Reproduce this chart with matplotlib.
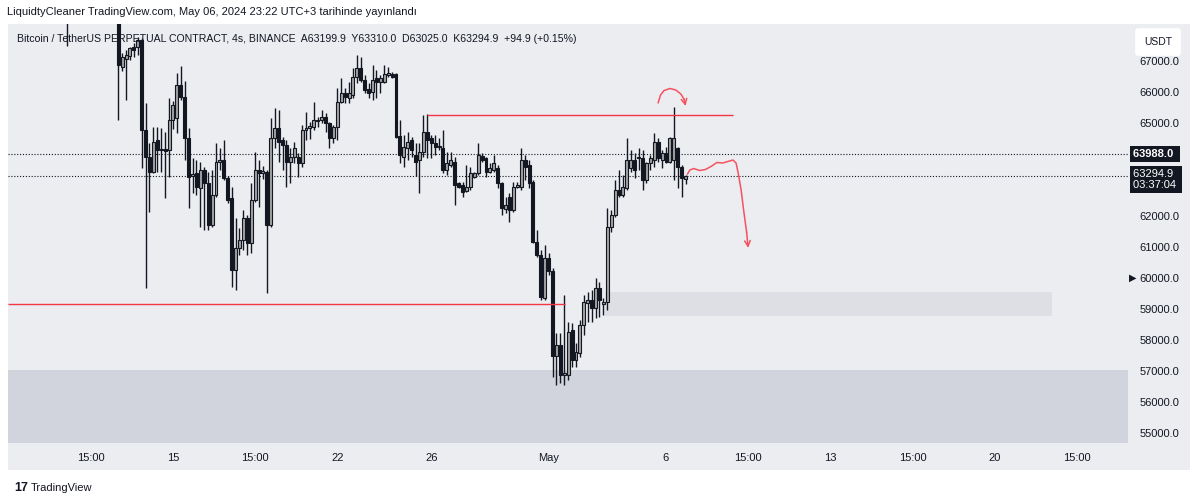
import numpy as np
import matplotlib.pyplot as plt
from matplotlib import transforms
from matplotlib.patches import Rectangle

plt.rcParams['font.family'] = ['Liberation Sans', 'DejaVu Sans']

# 4s mumlar (bar index 0 = ilk gorunen mum)
opens = [68400, 66816, 67050, 67161, 67460, 67460, 67677, 64774, 63913, 63429,
         64452, 64129, 64160, 64129, 65097, 65150, 66226, 65839, 64507, 63300,
         63380, 62903, 63484, 63054, 61710, 62677, 63750, 63806, 63216, 62570,
         60258, 60957, 61226, 61925, 61120, 62516, 63484, 63400, 63430, 61710,
         64507, 64829, 64452, 64290, 63752, 63900, 63913, 63700, 64774, 64830,
         64880, 65097, 65097, 65183, 65010, 64507, 64880, 65688, 65958, 65800,
         65903, 66494, 66765, 66387, 66087, 66010, 66440, 66332, 66332, 66560,
         66581, 66581, 64580, 63913, 64200, 64452, 63968, 63806, 64074, 64720,
         64507, 64345, 64236, 64184, 63484, 63645, 63752, 63054, 63000, 62816,
         62945, 63270, 63377, 63935, 63860, 63430, 63484, 63540, 63054, 62216,
         62623, 62194, 62945, 62945, 63806, 63645, 63108, 61171, 60742, 59345,
         60635, 60215, 57473, 57839, 56871, 56871, 58323, 57355, 57570, 58484,
         59203, 59290, 59022, 59668, 59161, 59236, 61655, 62032, 62839, 62677,
         62893, 63538, 63806, 63860, 63860, 63161, 63700, 63806, 64397, 63806,
         64020, 63752, 63806, 64184, 63591, 63199.9]
highs = [68700, 67248, 67355, 67460, 67570, 67785, 67730, 65635, 64355, 64870,
         64880, 64840, 64720, 65797, 65700, 66613, 66839, 66365, 64839, 63871,
         63806, 63752, 63590, 63430, 63484, 64345, 64194, 64452, 63300, 62945,
         61925, 61603, 62194, 62032, 63054, 64074, 63806, 63600, 63484, 65151,
         65474, 65419, 64560, 64452, 64184, 64400, 64020, 64935, 65365, 65040,
         65688, 65200, 65420, 65313, 65040, 64935, 66120, 66442, 66120, 66333,
         66765, 67194, 67140, 66548, 66281, 66871, 66710, 66548, 66871, 66816,
         66655, 66623, 65097, 64613, 64720, 64550, 64345, 64345, 65258, 65280,
         64613, 64613, 64507, 64774, 64074, 64074, 63913, 63108, 63108, 63645,
         63590, 63430, 64345, 64020, 63913, 63700, 63968, 63645, 63108, 62623,
         62732, 63108, 63108, 64184, 63968, 63806, 63161, 61548, 60903, 61065,
         60800, 60313, 58216, 58216, 59452, 58590, 58540, 57893, 58645, 59452,
         59560, 59613, 59990, 59880, 59345, 62248, 62194, 63161, 63484, 63323,
         64507, 64129, 64020, 64184, 64129, 63752, 63968, 64668, 64507, 64129,
         64236, 64560, 65526, 64236, 63645, 63310]
lows = [65097, 66687, 65742, 67032, 67140, 67194, 63539, 59668, 62139, 63387,
        63430, 63430, 62571, 63268, 64800, 64677, 65742, 63806, 62258, 62742,
        62677, 61655, 61548, 61548, 61655, 62623, 63484, 63161, 62430, 59720,
        59613, 60742, 60903, 60742, 60797, 62462, 62300, 63200, 59506, 61655,
        64184, 63752, 63484, 62945, 63054, 63700, 63270, 63590, 64452, 64500,
        64774, 64880, 64990, 64720, 64184, 64345, 64452, 65635, 65635, 65635,
        65797, 66281, 66332, 65958, 65797, 65742, 65797, 65958, 66281, 66494,
        66440, 64507, 63700, 63590, 63806, 63900, 63290, 62732, 63913, 63861,
        63861, 63968, 64129, 63377, 63323, 63590, 62355, 62893, 62623, 62784,
        62839, 63216, 63323, 63752, 63268, 63377, 63430, 62893, 62032, 62087,
        61816, 62139, 62893, 62839, 63161, 62900, 61120, 60688, 59290, 59290,
        60100, 56817, 56548, 56603, 56548, 56710, 57140, 57140, 57462, 58161,
        58590, 58590, 58700, 58750, 58806, 58968, 61494, 61978, 62623, 62623,
        62839, 63430, 63216, 63484, 62839, 63054, 63484, 63590, 63752, 63538,
        63700, 63700, 63161, 62893, 62623, 63025]
closes = [66871, 67119, 67180, 67410, 67355, 67677, 64774, 63913, 63429, 64397,
          64129, 64150, 64100, 65097, 65581, 66226, 65839, 64507, 63268, 63370,
          62935, 63484, 63054, 61710, 62677, 63752, 63806, 63216, 62516, 60258,
          60957, 61226, 61925, 61120, 62516, 63484, 63380, 63450, 61710, 64507,
          64829, 64398, 64290, 63752, 63913, 64200, 63700, 64774, 64840, 64900,
          65097, 65050, 65183, 64990, 64507, 64880, 65688, 65958, 65850, 65958,
          66494, 66765, 66387, 66065, 65978, 66387, 66332, 66440, 66581, 66581,
          66494, 64558, 63968, 64236, 64400, 64129, 63752, 64074, 64720, 64452,
          64345, 64236, 64220, 63484, 63700, 63806, 63000, 62925, 62784, 62945,
          63377, 63377, 63968, 63806, 63430, 63540, 63700, 63054, 62248, 62355,
          62194, 62945, 63000, 63806, 63590, 63054, 61171, 60742, 59397, 60635,
          60215, 57473, 57839, 56871, 56920, 58268, 57355, 57624, 58484, 59236,
          59290, 59022, 59668, 59290, 59236, 61655, 62032, 62839, 62677, 62945,
          63806, 63806, 63484, 63880, 63161, 63700, 63860, 64397, 63860, 64020,
          63752, 64507, 64507, 63591, 63216, 63294.9]

# ustten tasan eski mum (sadece fitili gorunuyor)
early_bar = -13
early_high, early_low = 70100, 67500

# eksen
time_ticks = [-7, 14, 35, 56, 80, 110, 140, 161, 182, 203, 224, 245]
time_labels = ['15:00', '15', '15:00', '22', '26', 'May', '6', '15:00', '13', '15:00', '20', '15:00']
price_ticks = [55000, 56000, 57000, 58000, 59000, 60000, 61000, 62000, 65000, 66000, 67000]
mark_price = 63988.0
last_price = 63294.9
countdown = '03:37:04'

# cizimler
support_level, support_end = 59160, 114.2
resist_level, resist_start, resist_end = 65258, 79, 157.1
zone_top = 57030
box_lo, box_hi, box_x0, box_x1 = 58774, 59548, 124.4, 238.6
arc_bars = [138.0, 138.6, 139.5, 141.0, 142.5, 143.8, 144.6, 145.0]
arc_prices = [65655, 65903, 66048, 66113, 66065, 65935, 65774, 65548]
wave_bars = [145.5, 146.1, 147.1, 148.6, 150.1, 151.7, 153.0, 154.5, 155.8, 157.1,
             157.9, 158.4, 159.2, 159.9, 160.6, 161.0]
wave_prices = [63355, 63484, 63532, 63468, 63500, 63613, 63726, 63710, 63758, 63806,
               63710, 63419, 62839, 62129, 61484, 60968]

W, H = 1200, 503
bg = '#ECEDF1'
ink = '#131722'
red = '#F23645'
pen = '#F5525F'

fig = plt.figure(figsize=(12, 5.03), dpi=100)
fig.patch.set_facecolor('white')
fig.patches.append(Rectangle((8 / W, 1 - 470 / H), 1182 / W, 446 / H, transform=fig.transFigure,
                             facecolor=bg, edgecolor='none', zorder=-10))

ax = fig.add_axes([8 / W, 1 - 443 / H, 1120 / W, 419 / H])
ax.set_facecolor(bg)
ax.set_xlim(-28.16, 258.07)
ax.set_ylim(54677, 68194)

# bolgeler
ax.axhspan(40000, zone_top, color='#D1D4DC', lw=0, zorder=1)
ax.add_patch(Rectangle((box_x0, box_lo), box_x1 - box_x0, box_hi - box_lo,
                       facecolor='#DDDFE4', edgecolor='none', zorder=1))

# mumlar
x = np.arange(len(opens))
o, h, l, c = (np.array(v, dtype=float) for v in (opens, highs, lows, closes))
up = c >= o
ax.vlines(x, l, h, color=ink, lw=1.0, zorder=3)
ax.vlines(early_bar, early_low, early_high, color=ink, lw=1.0, zorder=3)
bottom = np.minimum(o, c)
height = np.maximum(np.abs(c - o), 45)
ax.bar(x[up], height[up], bottom=bottom[up], width=0.76, color='#a4a4a4',
       edgecolor=ink, lw=0.8, zorder=4)
ax.bar(x[~up], height[~up], bottom=bottom[~up], width=0.76, color=ink,
       edgecolor=ink, lw=0.8, zorder=4)

# cizgiler
ax.hlines(support_level, -28.16, support_end, color=red, lw=1, zorder=5)
ax.hlines(resist_level, resist_start, resist_end, color=red, lw=1, zorder=5)
ax.axhline(mark_price, color=ink, lw=0.8, ls=(0, (1, 1.6)), zorder=2)
ax.axhline(last_price, color=ink, lw=0.8, ls=(0, (1, 1.6)), zorder=2)

for xs, ys in ((arc_bars, arc_prices), (wave_bars, wave_prices)):
    ax.plot(xs[:-1], ys[:-1], color=pen, lw=1.1, zorder=6)
    ax.annotate('', xy=(xs[-1], ys[-1]), xytext=(xs[-2], ys[-2]),
                arrowprops=dict(arrowstyle='->', color=pen, lw=1.1, shrinkA=0, shrinkB=0,
                                mutation_scale=10), zorder=6)

# eksenler
for s in ax.spines.values():
    s.set_visible(False)
ax.set_xticks(time_ticks, time_labels)
ax.set_yticks(price_ticks, [f'{v:.1f}' for v in price_ticks])
ax.yaxis.tick_right()
ax.tick_params(axis='y', length=0, pad=8, labelsize=8, labelcolor=ink)
ax.tick_params(axis='x', length=0, pad=7, labelsize=8, labelcolor=ink)

tr = transforms.blended_transform_factory(ax.transAxes, ax.transData)
ax.text(1.0045, mark_price, f'{mark_price:.1f} ', transform=tr, va='center', ha='left',
        color='white', fontsize=8, fontweight='bold', clip_on=False,
        bbox=dict(boxstyle='square,pad=0.28', fc=ink, ec='none'))
ax.annotate(f'{last_price:.1f} \n{countdown} ', xy=(1.0045, last_price), xycoords=tr,
            xytext=(0, 5), textcoords='offset points', va='top', ha='left',
            color='white', fontsize=8, linespacing=1.1, annotation_clip=False,
            bbox=dict(boxstyle='square,pad=0.28', fc=ink, ec='none'))
ax.text(1.0005, 60000, '▶', transform=tr, va='center', ha='left', fontsize=7,
        color=ink, family='DejaVu Sans', clip_on=False)

# yazilar
fig.text(7 / W, 1 - 12 / H, 'LiquidtyCleaner TradingView.com, May 06, 2024 23:22 UTC+3 tarihinde yayınlandı',
         fontsize=8, color=ink, va='center')
ax.text(9 / 1120, 1 - 15 / 419,
        'Bitcoin / TetherUS PERPETUAL CONTRACT, 4s, BINANCE  A63199.9  Y63310.0  D63025.0  K63294.9  +94.9 (+0.15%)',
        transform=ax.transAxes, fontsize=7.6, color=ink, va='center', zorder=10)
fig.text(1144 / W, 1 - 42 / H, 'USDT', fontsize=7.5, color=ink, va='center',
         bbox=dict(boxstyle='round,pad=0.85,rounding_size=0.3', fc='white', ec='none'))
fig.text(14 / W, 1 - 488 / H, '17', fontsize=9, fontweight='bold', color=ink, va='center')
fig.text(31 / W, 1 - 488 / H, 'TradingView', fontsize=8, color=ink, va='center')

fig.savefig('out.png', dpi=100)
